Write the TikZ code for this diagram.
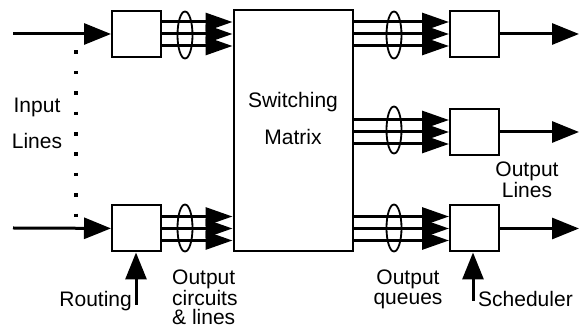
\documentclass[tikz,border=0pt]{standalone}
\usepackage{fontspec}
\setmainfont{Liberation Sans}
\usetikzlibrary{arrows.meta, shapes.geometric, calc}

\begin{document}
\begin{tikzpicture}[x=1pt, y=-1pt,
    font=\fontsize{21pt}{19.5pt}\selectfont,
    box/.style={draw, line width=2pt, minimum width=49pt, minimum height=46pt, inner sep=0pt},
    bundle/.style={draw, ellipse, line width=1.8pt, minimum width=15pt, minimum height=47pt, inner sep=0pt},
    wire/.style={line width=3pt, -{Triangle[length=27pt, width=21pt]}},
    bus/.style={line width=3pt, -{Triangle[length=27pt, width=18pt]}},
    txt/.style={inner sep=0pt}]
  \useasboundingbox (0,0) rectangle (579,328);
  % boxes
  \node[box] (inA) at (136.5,34) {};
  \node[box] (inB) at (136.5,228.5) {};
  \node[draw, line width=2pt, minimum width=119pt, minimum height=241pt, inner sep=0pt] (sw) at (293,131) {};
  \node[box] (outA) at (474.5,34) {};
  \node[box] (outB) at (474.5,132) {};
  \node[box] (outC) at (474.5,228.5) {};
  % input and output lines
  \coordinate (srcA) at (13,34);
  \coordinate (srcB) at (13,228);
  \draw[wire] (srcA) -- (inA);
  \draw[wire] (srcB) -- (inB);
  \foreach \b in {outA,outB,outC}
    \draw[wire] (\b.east) -- (\b.east -| 579,0);
  \draw[line width=3.5pt, dash pattern=on 3.5pt off 16.9pt] (76,50.5) -- (76,218);
  % bundles of circuits
  \foreach \b in {inA,inB}
    \foreach \d in {-12,0,12} {
      \coordinate (a) at ($(\b.east)+(0,\d)$);
      \draw[bus] (a) -- (a -| sw.west);
    }
  \foreach \b in {outA,outB,outC}
    \foreach \d in {-12,0,12} {
      \coordinate (a) at ($(\b.west)+(0,\d)$);
      \draw[bus] (a -| sw.east) -- (a);
    }
  \node[bundle] (bunA) at (185,35) {};
  \node[bundle] (bunB) at (185,228) {};
  \node[bundle] (bunC) at (394,35) {};
  \node[bundle] (bunD) at (394,130) {};
  \node[bundle] (bunE) at (394,228) {};
  % control arrows
  \coordinate (rt) at (136,305);
  \coordinate (sc) at (473,301);
  \draw[wire] (rt) -- (rt |- inB.south);
  \draw[wire] (sc) -- (sc |- outC.south);
  % labels
  \node[txt, anchor=base] (inp) at (37,113) {Input};
  \node[txt, anchor=base] (lin) at (37,149) {Lines};
  \node[txt, anchor=base] (swt) at (293,108) {Switching};
  \node[txt, anchor=base] (mtx) at (293,145) {Matrix};
  \node[txt, anchor=base east] (rout) at (132,307) {Routing};
  \node[txt, anchor=base west] (sched) at (478,307) {Scheduler};
  \node[txt, anchor=north west, align=left] (circ) at (172,270) {Output\\circuits\\\& lines};
  \node[txt, anchor=north, align=center] (que) at (408,270) {Output\\queues};
  \node[txt, anchor=north, align=center] (olin) at (527,162) {Output\\Lines};
\end{tikzpicture}
\end{document}
